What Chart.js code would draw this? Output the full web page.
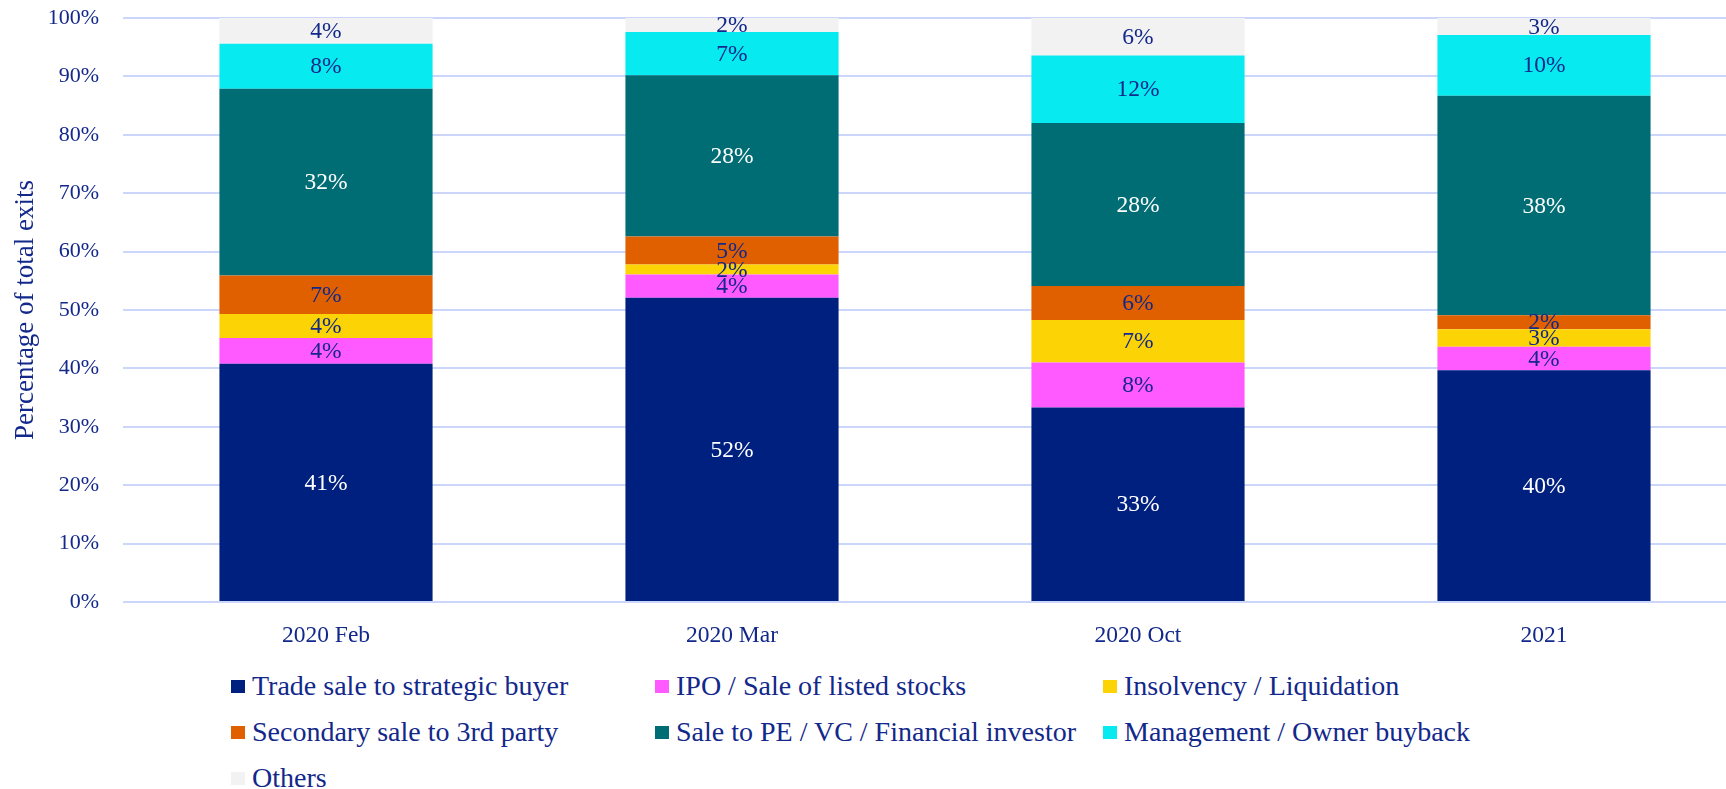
<!DOCTYPE html>
<html>
<head>
<meta charset="utf-8">
<script src="https://cdn.jsdelivr.net/npm/chart.js@4/dist/chart.umd.min.js"></script>
<style>
  html, body { margin: 0; padding: 0; background: #fff; overflow: hidden; }
  #wrap { position: relative; width: 1726px; height: 789px; overflow: hidden; }
  #chart { position: absolute; left: 0; top: 0; }
  #legend {
    position: absolute; left: 231px; top: 663px;
    display: grid; grid-template-columns: 424px 448px auto;
    font-family: 'Liberation Serif', 'Times New Roman', serif;
    font-size: 28px; line-height: 46px; color: #12288a;
  }
  .item { display: flex; align-items: center; white-space: nowrap; }
  .box { width: 14px; height: 13px; margin-right: 7px; flex: none; }
</style>
</head>
<body>
<div id="wrap">
  <canvas id="chart" width="1747" height="660"></canvas>
  <div id="legend"></div>
</div>
<script>
// Datos (porcentaje del total de salidas)
const categories = ['2020 Feb', '2020 Mar', '2020 Oct', '2021'];
const seriesNames = [
  'Trade sale to strategic buyer',
  'IPO / Sale of listed stocks',
  'Insolvency / Liquidation',
  'Secondary sale to 3rd party',
  'Sale to PE / VC / Financial investor',
  'Management / Owner buyback',
  'Others'
];
const tradeSale  = [40.8, 52.1, 33.3, 39.7];
const ipo        = [4.4, 4.0, 7.7, 4.0];
const insolvency = [4.1, 1.7, 7.3, 3.0];
const secondary  = [6.6, 4.8, 5.8, 2.4];
const peVc       = [32.0, 27.6, 27.9, 37.6];
const buyback    = [7.7, 7.4, 11.6, 10.4];
const others     = [4.4, 2.4, 6.4, 2.9];
const yTicks = [0, 10, 20, 30, 40, 50, 60, 70, 80, 90, 100];

const colores = ['#00207f', '#ff5aff', '#fcd304', '#e06000', '#006d75', '#07eaf0', '#f2f2f2'];
const colorTexto = ['#ffffff', '#12288a', '#12288a', '#12288a', '#ffffff', '#12288a', '#12288a'];
const navy = '#12288a';
const fuente = "'Liberation Serif', 'Times New Roman', serif";

const valores = [tradeSale, ipo, insolvency, secondary, peVc, buyback, others];

// Etiquetas centradas en cada segmento
const etiquetasPlugin = {
  id: 'etiquetas',
  afterDatasetsDraw(chart) {
    const ctx = chart.ctx;
    ctx.save();
    ctx.font = '23.5px ' + fuente;
    ctx.textAlign = 'center';
    ctx.textBaseline = 'middle';
    chart.data.datasets.forEach((ds, i) => {
      const meta = chart.getDatasetMeta(i);
      meta.data.forEach((bar, j) => {
        const c = bar.getCenterPoint();
        ctx.fillStyle = colorTexto[i];
        ctx.fillText(Math.round(ds.data[j]) + '%', c.x, c.y + 1);
      });
    });
    ctx.restore();
  }
};

const chart = new Chart(document.getElementById('chart'), {
  type: 'bar',
  data: {
    labels: categories,
    datasets: seriesNames.map((nombre, i) => ({
      label: nombre,
      data: valores[i],
      backgroundColor: colores[i],
      borderWidth: 0,
      barPercentage: 1,
      categoryPercentage: 0.525
    }))
  },
  options: {
    responsive: false,
    devicePixelRatio: 1,
    animation: false,
    layout: { padding: { top: 18, left: 0, right: 0, bottom: 0 } },
    plugins: { legend: { display: false }, tooltip: { enabled: false } },
    scales: {
      x: {
        stacked: true,
        grid: { display: false },
        border: { display: false },
        ticks: { color: navy, font: { family: fuente, size: 23.5 }, padding: 12, maxRotation: 0 },
        afterFit: s => { s.height = 58; s.paddingLeft = 0; s.paddingRight = 0; }
      },
      y: {
        stacked: true,
        min: 0,
        max: 100,
        afterBuildTicks: s => { s.ticks = yTicks.map(v => ({ value: v })); },
        grid: { color: '#ccd6fb', lineWidth: 2, drawTicks: false },
        border: { display: false },
        ticks: {
          color: navy,
          font: { family: fuente, size: 22 },
          padding: 24,
          callback: v => v + '%'
        },
        title: {
          display: true,
          text: 'Percentage of total exits',
          color: navy,
          font: { family: fuente, size: 27 },
          padding: { top: 10, bottom: 0 }
        },
        afterFit: s => { s.width = 123; s.paddingTop = 0; s.paddingBottom = 0; }
      }
    }
  },
  plugins: [etiquetasPlugin]
});

// Leyenda en HTML, generada desde los datasets
const leyenda = document.getElementById('legend');
leyenda.innerHTML = chart.data.datasets.map(ds => `
  <div class="item"><span class="box" style="background:${ds.backgroundColor}"></span>${ds.label}</div>
`).join('');
</script>
</body>
</html>
